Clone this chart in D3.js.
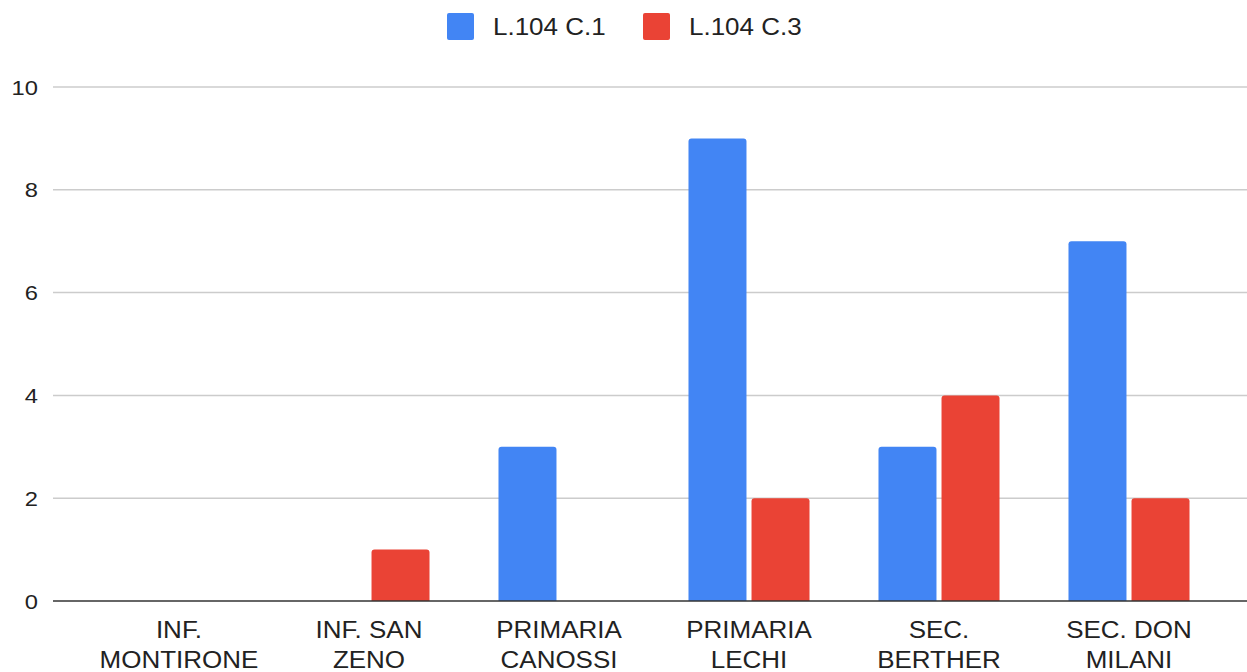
<!DOCTYPE html>
<html>
<head>
<meta charset="utf-8">
<script src="https://cdn.jsdelivr.net/npm/d3@7"></script>
<style>
  html, body { margin: 0; padding: 0; background: #fff; }
  svg { display: block; }
</style>
</head>
<body>
<svg id="chart" width="1247" height="672"></svg>
<script>
// chart data
const categories = [
  ['INF.', 'MONTIRONE'],
  ['INF. SAN', 'ZENO'],
  ['PRIMARIA', 'CANOSSI'],
  ['PRIMARIA', 'LECHI'],
  ['SEC.', 'BERTHER'],
  ['SEC. DON', 'MILANI']
];
const seriesNames = ['L.104 C.1', 'L.104 C.3'];
const seriesC1 = [0, 0, 3, 9, 3, 7];
const seriesC3 = [0, 1, 0, 2, 4, 2];
const yTicks = [0, 2, 4, 6, 8, 10];

const colors = ['#4285f4', '#ea4335'];
const plot = { left: 53, right: 1247, top: 87, bottom: 601 };
const font = 'Arial, "Liberation Sans", sans-serif';
const sx = 1.13; // text in the original is a bit wider than Arial

const svg = d3.select('#chart');

const catKeys = categories.map(c => c.join(' '));
const rows = catKeys.map((k, i) => ({ key: k, values: [seriesC1[i], seriesC3[i]] }));

const x0 = d3.scaleBand()
  .domain(catKeys)
  .range([84, 1224])
  .paddingInner(0.363)
  .paddingOuter(0.1815);

const x1 = d3.scaleBand()
  .domain(seriesNames)
  .range([0, x0.bandwidth()])
  .paddingInner(0.08);

const y = d3.scaleLinear()
  .domain([0, 10])
  .range([plot.bottom, plot.top]);

// gridlines
svg.append('g')
  .selectAll('line')
  .data(yTicks.filter(t => t !== 0))
  .join('line')
  .attr('x1', plot.left)
  .attr('x2', plot.right)
  .attr('y1', d => y(d))
  .attr('y2', d => y(d))
  .attr('stroke', '#cccccc')
  .attr('stroke-width', 1.5);

// tick labels
svg.append('g')
  .selectAll('text')
  .data(yTicks)
  .join('text')
  .attr('transform', d => `translate(38,${y(d)}) scale(${sx},1)`)
  .attr('dy', '0.36em')
  .attr('text-anchor', 'end')
  .style('font-family', font)
  .style('font-size', '21px')
  .style('fill', '#222')
  .text(d => d);

// rounded top bar path
function barPath(x, yTop, w, h, r) {
  r = Math.min(r, h, w / 2);
  return `M${x},${yTop + h}V${yTop + r}Q${x},${yTop} ${x + r},${yTop}` +
    `H${x + w - r}Q${x + w},${yTop} ${x + w},${yTop + r}V${yTop + h}Z`;
}

// bars
const groups = svg.append('g')
  .selectAll('g')
  .data(rows)
  .join('g')
  .attr('transform', d => `translate(${x0(d.key)},0)`);

groups.selectAll('path')
  .data(d => d.values.map((v, i) => ({ series: seriesNames[i], value: v, i })).filter(e => e.value > 0))
  .join('path')
  .attr('d', d => barPath(x1(d.series), y(d.value), x1.bandwidth(), y(0) - y(d.value), 3))
  .attr('fill', d => colors[d.i]);

// baseline
svg.append('line')
  .attr('x1', plot.left)
  .attr('x2', plot.right)
  .attr('y1', y(0))
  .attr('y2', y(0))
  .attr('stroke', '#333333')
  .attr('stroke-width', 1.5);

// category labels
const catLabels = svg.append('g')
  .selectAll('text')
  .data(categories)
  .join('text')
  .attr('transform', (d, i) => `translate(${x0(catKeys[i]) + x0.bandwidth() / 2},638) scale(${sx},1)`)
  .attr('text-anchor', 'middle')
  .style('font-family', font)
  .style('font-size', '23px')
  .style('fill', '#222');

catLabels.selectAll('tspan')
  .data(d => d)
  .join('tspan')
  .attr('x', 0)
  .attr('dy', (d, i) => i === 0 ? 0 : 30)
  .text(d => d);

// legend
const legendX = [447, 643];
const legend = svg.append('g')
  .selectAll('g')
  .data(seriesNames)
  .join('g')
  .attr('transform', (d, i) => `translate(${legendX[i]},13)`);

legend.append('rect')
  .attr('width', 27)
  .attr('height', 27)
  .attr('rx', 2)
  .attr('fill', (d, i) => colors[i]);

legend.append('text')
  .attr('transform', `translate(46,13.5) scale(${sx},1)`)
  .attr('dy', '0.36em')
  .style('font-family', font)
  .style('font-size', '23px')
  .style('fill', '#222')
  .text(d => d);
</script>
</body>
</html>
